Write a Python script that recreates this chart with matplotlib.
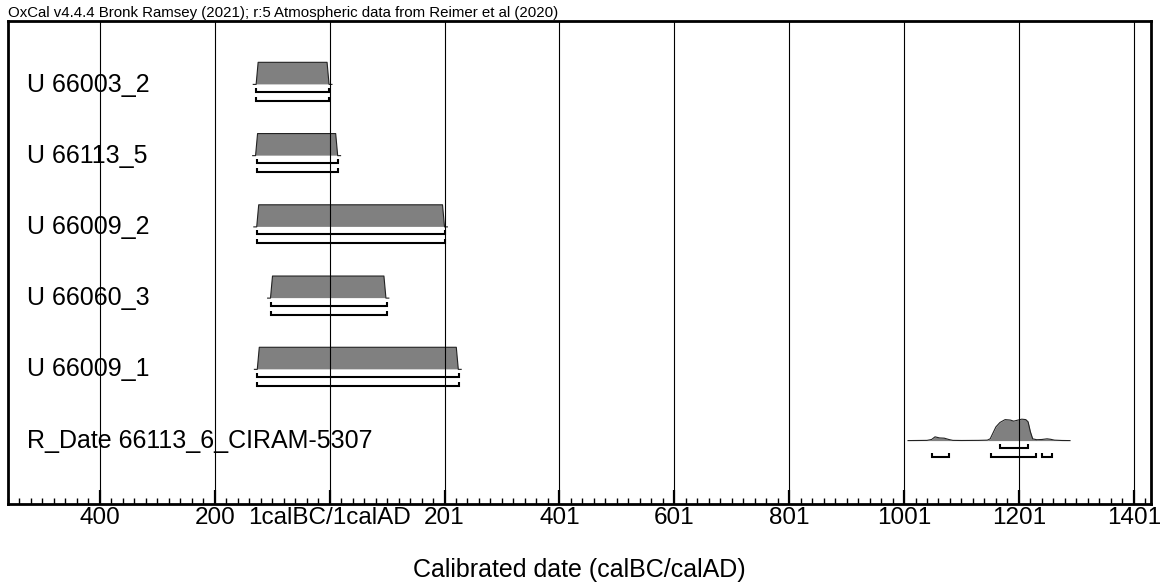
import matplotlib
matplotlib.use("Agg")
import matplotlib.pyplot as plt
from matplotlib.ticker import MultipleLocator
import matplotlib.transforms as mtransforms
import numpy as np

plt.rcParams['font.family'] = ['Liberation Sans', 'DejaVu Sans']

# ---------------- data ----------------
labels = ["U 66003_2", "U 66113_5", "U 66009_2", "U 66060_3", "U 66009_1",
          "R_Date 66113_6_CIRAM-5307"]

# uniform (U) prior boxes, axis years (negative = BC side of 1calBC/1calAD)
u_start = [-128, -129, -127, -103, -126]
u_end = [-1, 14, 200, 98, 224]
u_range68 = [(-128, -1), (-127, 15), (-127, 200), (-102, 100), (-127, 225)]
u_range95 = [(-128, -1), (-127, 15), (-127, 200), (-102, 100), (-127, 225)]

# calibrated R_Date distribution
r_years = [1007, 1040, 1048, 1054, 1062, 1070, 1078, 1085, 1100, 1130, 1145,
           1150, 1155, 1160, 1167, 1176, 1185, 1191, 1197, 1205, 1212, 1216,
           1220, 1224, 1231, 1240, 1249, 1255, 1262, 1275, 1289]
r_density = [0.0, 0.01, 0.05, 0.17, 0.12, 0.11, 0.05, 0.01, 0.005, 0.01, 0.02,
             0.08, 0.35, 0.62, 0.82, 0.95, 0.93, 0.88, 0.92, 0.97, 0.95, 0.85,
             0.40, 0.08, 0.04, 0.05, 0.08, 0.06, 0.02, 0.005, 0.0]
r_range68 = [(1167, 1215)]
r_range95 = [(1048, 1079), (1152, 1230), (1240, 1257)]

tick_pos = [-400, -200, 0, 200, 400, 600, 800, 1000, 1200, 1400]
tick_labels = ["400", "200", "1calBC/1calAD", "201", "401", "601", "801",
               "1001", "1201", "1401"]

header = "OxCal v4.4.4 Bronk Ramsey (2021); r:5 Atmospheric data from Reimer et al (2020)"
xlabel = "Calibrated date (calBC/calAD)"

# ---------------- layout / style ----------------
W, H = 1167, 587
fig = plt.figure(figsize=(W / 100, H / 100), dpi=100)
ax = fig.add_axes([8 / W, (H - 504) / H, (1151 - 8) / W, (504 - 21) / H])

XMIN, XMAX = -560, 1430
ROW0, PITCH = 0.89, 1.0
YBOT = 6.78
HEIGHT = 0.31          # max height of a distribution (rows)
OFF68, OFF95 = 0.105, 0.23
HOOK = 0.055
FILL = '#808080'

ax.set_xlim(XMIN, XMAX)
ax.set_ylim(YBOT, 0)

for x in tick_pos:
    ax.axvline(x, color='black', lw=0.8, zorder=3)


def brackets(ranges, y):
    for a, b in ranges:
        ax.plot([a, a, b, b], [y - HOOK, y, y, y - HOOK], color='black',
                lw=1.5, solid_joinstyle='miter', solid_capstyle='butt', zorder=4)


inset, ext = 3.5, 5.0
for i in range(len(u_start)):
    base = ROW0 + i * PITCH
    a, b = u_start[i], u_end[i]
    xs = [a - ext, a, a + inset, b - inset, b, b + ext]
    ys = [base, base, base - HEIGHT, base - HEIGHT, base, base]
    ax.fill(xs, ys, color=FILL, lw=0, zorder=2)
    ax.plot(xs, ys, color='#222222', lw=0.8, zorder=2.5)
    brackets([u_range68[i]], base + OFF68)
    brackets([u_range95[i]], base + OFF95)

base = ROW0 + 5 * PITCH
ry = base - HEIGHT * np.array(r_density)
ax.fill_between(r_years, base, ry, color=FILL, lw=0, zorder=2)
ax.plot(r_years, ry, color='#222222', lw=0.8, zorder=2.5)
brackets(r_range68, base + OFF68)
brackets(r_range95, base + OFF95)

blend = mtransforms.blended_transform_factory(ax.transAxes, ax.transData)
for i, lab in enumerate(labels):
    ax.text(0.0166, ROW0 + i * PITCH + OFF68 - 0.005, lab, transform=blend,
            fontsize=18, va='baseline', ha='left', color='black', zorder=5)

# axes styling
for s in ax.spines.values():
    s.set_linewidth(2)
    s.set_color('black')
ax.set_xticks(tick_pos)
ax.set_xticklabels(tick_labels)
ax.xaxis.set_minor_locator(MultipleLocator(20))
ax.tick_params(axis='x', which='major', direction='in', length=10, width=1.6,
               labelsize=17.5, pad=2, top=False)
ax.tick_params(axis='x', which='minor', direction='in', length=4.5, width=1,
               top=False)
ax.set_yticks([])
ax.set_xlabel(xlabel, fontsize=18, labelpad=21)

fig.text(8 / W, 1 - 17 / H, header, fontsize=10.8, ha='left', va='baseline')

fig.savefig("out.png", dpi=100)
